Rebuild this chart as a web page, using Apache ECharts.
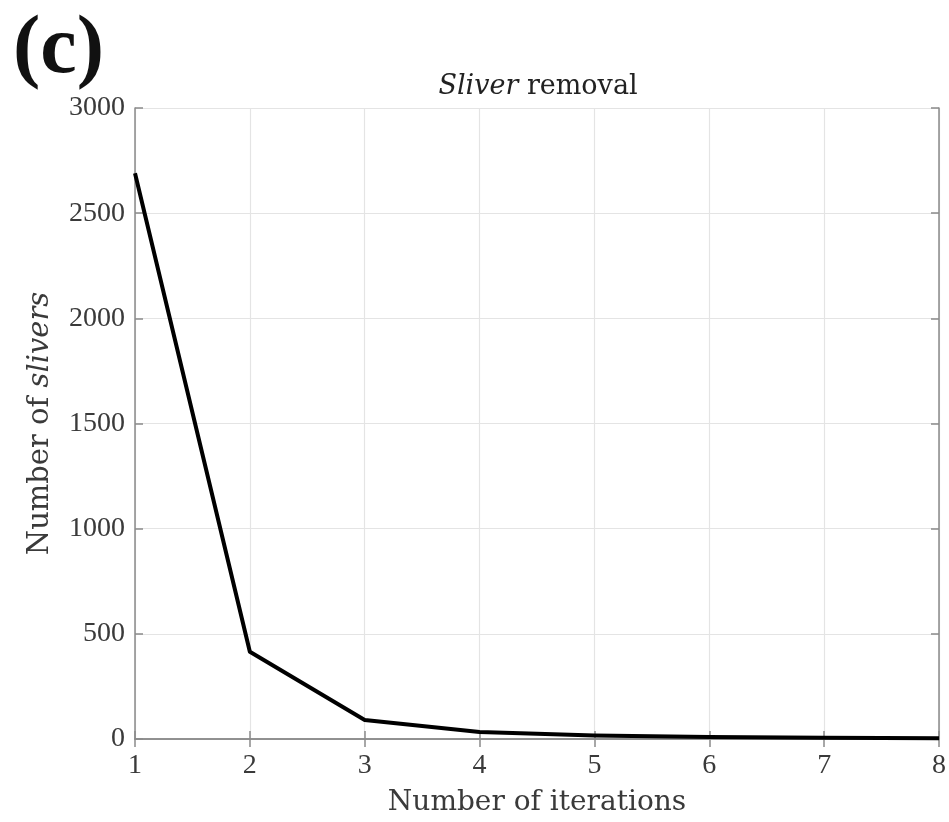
<!DOCTYPE html>
<html>
<head>
<meta charset="utf-8">
<script src="https://cdn.jsdelivr.net/npm/echarts@6/dist/echarts.min.js"></script>
<style>
  html, body { margin: 0; padding: 0; background: #fff; }
  #chart { width: 949px; height: 822px; }
</style>
</head>
<body>
<div id="chart"></div>
<script>
// Sliver count after each removal iteration
const iterations = [1, 2, 3, 4, 5, 6, 7, 8];
const sliverCounts = [2690, 415, 90, 33, 17, 10, 6, 3];
const xTicks = [1, 2, 3, 4, 5, 6, 7, 8];
const yTicks = [0, 500, 1000, 1500, 2000, 2500, 3000];

const NUM_FONT = '"Liberation Serif", "DejaVu Serif", serif';
const TEXT_FONT = '"DejaVu Serif", "Liberation Serif", serif';
const AXIS_COLOR = '#8a8a8a';
const GRID_COLOR = '#e4e4e4';
const TEXT_COLOR = '#3a3a3a';

const points = iterations.map((x, i) => [x, sliverCounts[i]]);

const chart = echarts.init(document.getElementById('chart'), null, { renderer: 'canvas' });

const baseX = {
  type: 'value',
  min: xTicks[0],
  max: xTicks[xTicks.length - 1],
  interval: 1,
  axisLine: { show: true, lineStyle: { color: AXIS_COLOR, width: 1.5 } },
  axisTick: { show: true, inside: true, length: 8, lineStyle: { color: AXIS_COLOR, width: 1.5 } },
  splitLine: { show: false }
};
const baseY = {
  type: 'value',
  min: yTicks[0],
  max: yTicks[yTicks.length - 1],
  interval: 500,
  axisLine: { show: true, lineStyle: { color: AXIS_COLOR, width: 1.5 } },
  axisTick: { show: true, inside: true, length: 8, lineStyle: { color: AXIS_COLOR, width: 1.5 } },
  splitLine: { show: false }
};

chart.setOption({
  backgroundColor: '#fff',
  animation: false,
  graphic: [{
    type: 'text',
    left: 13,
    top: 10,
    style: {
      text: '(c)',
      font: 'bold 82px "Liberation Serif", serif',
      fill: '#111'
    }
  }],
  title: {
    text: '{i|Sliver} removal',
    left: 533,
    textAlign: 'center',
    top: 68,
    textStyle: {
      fontFamily: TEXT_FONT,
      fontSize: 27,
      fontWeight: 'normal',
      color: '#222',
      rich: {
        i: { fontFamily: TEXT_FONT, fontSize: 27, fontStyle: 'italic', color: '#222' }
      }
    }
  },
  grid: { left: 135, right: 9, top: 108, bottom: 80, containLabel: false },
  xAxis: [
    Object.assign({}, baseX, {
      position: 'bottom',
      name: 'Number of iterations',
      nameLocation: 'middle',
      nameGap: 50,
      nameTextStyle: { fontFamily: TEXT_FONT, fontSize: 28, color: TEXT_COLOR },
      axisLabel: { fontFamily: NUM_FONT, fontSize: 28, color: TEXT_COLOR, margin: 13 },
      splitLine: { show: true, lineStyle: { color: GRID_COLOR, width: 1.2 } }
    }),
    Object.assign({}, baseX, { position: 'top', axisLabel: { show: false } })
  ],
  yAxis: [
    Object.assign({}, baseY, {
      position: 'left',
      name: 'Number of {i|slivers}',
      nameLocation: 'middle',
      nameGap: 80,
      nameRotate: 90,
      nameTextStyle: {
        fontFamily: TEXT_FONT, fontSize: 29, color: TEXT_COLOR,
        rich: { i: { fontFamily: TEXT_FONT, fontSize: 29, fontStyle: 'italic', color: TEXT_COLOR } }
      },
      axisLabel: {
        fontFamily: NUM_FONT, fontSize: 28, color: TEXT_COLOR, margin: 10,
        formatter: (v) => String(v)
      },
      splitLine: { show: true, lineStyle: { color: GRID_COLOR, width: 1.2 } }
    }),
    Object.assign({}, baseY, { position: 'right', axisLabel: { show: false } })
  ],
  series: [{
    type: 'line',
    data: points,
    xAxisIndex: 0,
    yAxisIndex: 0,
    showSymbol: false,
    symbol: 'none',
    lineStyle: { color: '#000', width: 4, join: 'round' },
    z: 5
  }]
});
</script>
</body>
</html>
